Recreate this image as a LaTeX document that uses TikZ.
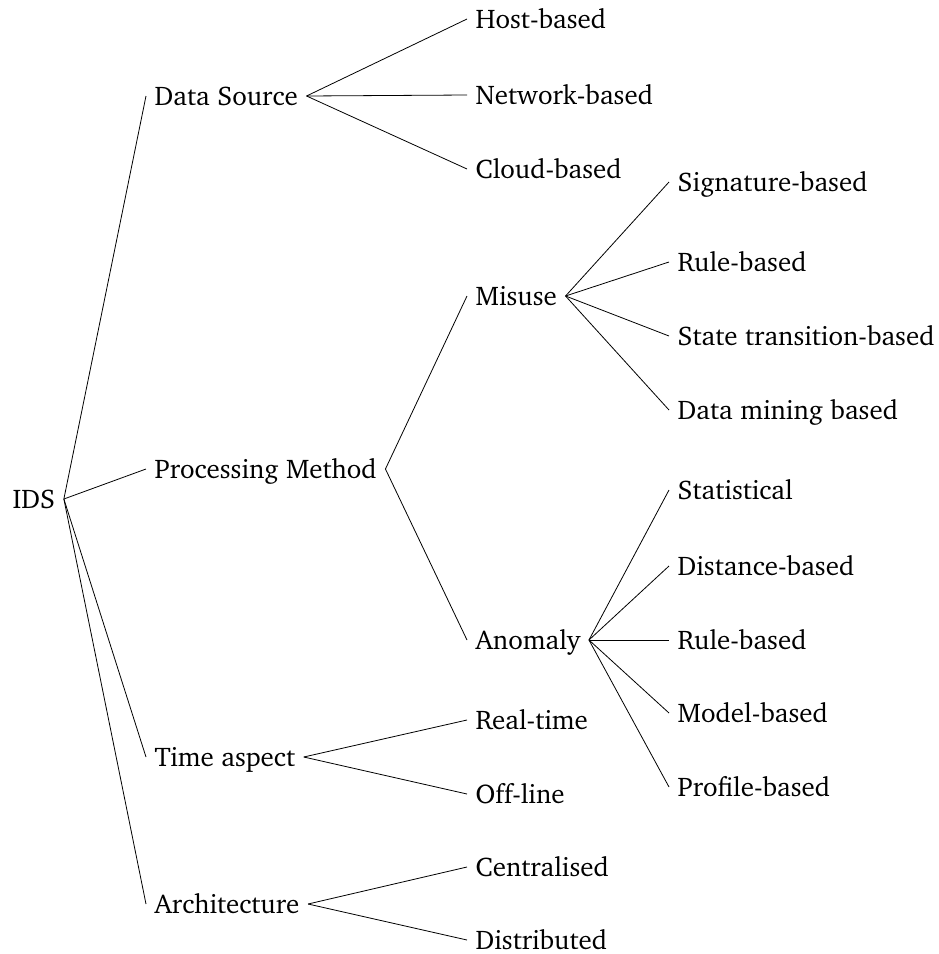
\documentclass[tikz,border=0pt]{standalone}
\usepackage[T1]{fontenc}
\usepackage{charter}
\tikzset{
  lbl/.style={anchor=west, inner xsep=8.5pt, inner ysep=0pt, text height=18pt, text depth=0pt, font=\fontsize{27}{32}\selectfont},
  edge/.style={draw=black, line width=0.8pt}
}
\begin{document}
\begin{tikzpicture}[x=1pt,y=-1pt]
\useasboundingbox (0,0) rectangle (938,954);
\node[lbl] (ids) at (4,499) {IDS};
\node[lbl] (ds) at (146,96) {Data Source};
\node[lbl] (pm) at (146,469) {Processing Method};
\node[lbl] (ta) at (146,757) {Time aspect};
\node[lbl] (ar) at (146,904) {Architecture};
\node[lbl] (host) at (467,19) {Host-based};
\node[lbl] (net) at (467,95) {Network-based};
\node[lbl] (cloud) at (467,169) {Cloud-based};
\node[lbl] (mis) at (467,296) {Misuse};
\node[lbl] (ano) at (467,640) {Anomaly};
\node[lbl] (sig) at (669,182) {Signature-based};
\node[lbl] (ruleA) at (669,262) {Rule-based};
\node[lbl] (state) at (669,336) {State transition-based};
\node[lbl] (dm) at (669,410) {Data mining based};
\node[lbl] (stat) at (669,490) {Statistical};
\node[lbl] (dist) at (669,566) {Distance-based};
\node[lbl] (ruleB) at (669,640) {Rule-based};
\node[lbl] (model) at (669,713) {Model-based};
\node[lbl] (prof) at (669,787) {Profile-based};
\node[lbl] (rt) at (467,720) {Real-time};
\node[lbl] (ol) at (467,794) {Off-line};
\node[lbl] (cen) at (467,867) {Centralised};
\node[lbl] (dis) at (467,940) {Distributed};
\foreach \p/\c in {ids/ds, ids/pm, ids/ta, ids/ar,
  ds/host, ds/net, ds/cloud, pm/mis, pm/ano,
  mis/sig, mis/ruleA, mis/state, mis/dm,
  ano/stat, ano/dist, ano/ruleB, ano/model, ano/prof,
  ta/rt, ta/ol, ar/cen, ar/dis}
  \draw[edge] (\p.east) -- (\c.west);
\end{tikzpicture}
\end{document}
